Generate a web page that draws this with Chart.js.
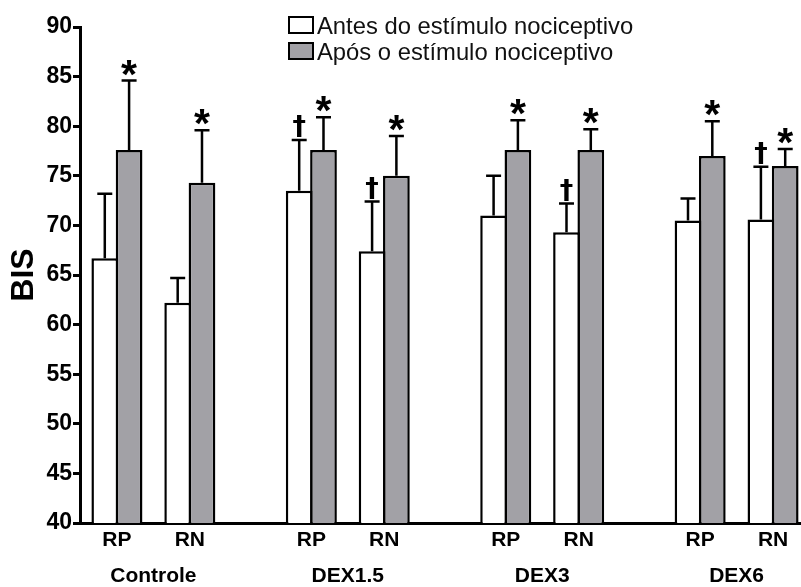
<!DOCTYPE html>
<html>
<head>
<meta charset="utf-8">
<script src="https://cdn.jsdelivr.net/npm/chart.js@4/dist/chart.umd.min.js"></script>
<style>
  html, body { margin: 0; padding: 0; background: #ffffff; }
  #wrap { width: 801px; height: 587px; }
</style>
</head>
<body>
<div id="wrap"><canvas id="bis" width="801" height="587"></canvas></div>
<script>
// BIS before / after the nociceptive stimulus, by group and condition
const groups = ['Controle', 'DEX1.5', 'DEX3', 'DEX6'];
const conditions = ['RP', 'RN'];
const seriesLabels = ['Antes do estímulo nociceptivo', 'Após o estímulo nociceptivo'];

// one value per bar: Controle RP, Controle RN, DEX1.5 RP, DEX1.5 RN, DEX3 RP, DEX3 RN, DEX6 RP, DEX6 RN
const antes      = [66.7, 62.2, 73.5, 67.4, 71.0, 69.3, 70.5, 70.6];
const antesErro  = [6.5, 2.5, 5.1, 5.0, 4.0, 2.9, 2.2, 5.3];
const antesMarca = ['', '', '†', '†', '', '†', '', '†'];

const apos      = [77.6, 74.3, 77.6, 75.0, 77.6, 77.6, 77.0, 76.0];
const aposErro  = [7.0, 5.3, 3.3, 4.0, 3.0, 2.1, 3.5, 1.7];
const aposMarca = ['*', '*', '*', '*', '*', '*', '*', '*'];

const yMin = 40, yMax = 90, yStep = 5;

// horizontal layout: conditions 3 slots apart, groups 8 slots apart
const slotOf = i => Math.floor(i / conditions.length) * 8 + (i % conditions.length) * 3;
const barSlots = antes.map((_, i) => slotOf(i));
const groupSlots = groups.map((_, g) => g * 8 + 1.5);
const barLabels = barSlots.map((_, i) => conditions[i % conditions.length]);

const FONT = '"Liberation Sans", Arial, Helvetica, sans-serif';
const MARK_FONT = { '*': 'bold 41px ' + FONT, '†': 'bold 27px "DejaVu Sans", sans-serif' };
const MARK_GAP = { '*': 5, '†': 2 };
const GREY = '#a2a1a6';

// error bars (upper half only) with significance marks above the caps
const errorBars = {
  id: 'errorBars',
  afterDatasetsDraw(chart) {
    const ctx = chart.ctx;
    const ys = chart.scales.y;
    chart.data.datasets.forEach((ds, di) => {
      const meta = chart.getDatasetMeta(di);
      meta.data.forEach((bar, i) => {
        const v = ds.data[i].y;
        const yTop = ys.getPixelForValue(v + ds.errors[i]);
        const yBar = ys.getPixelForValue(v);
        ctx.save();
        ctx.strokeStyle = '#000';
        ctx.lineWidth = 2.5;
        ctx.beginPath();
        ctx.moveTo(bar.x, yBar);
        ctx.lineTo(bar.x, yTop);
        ctx.moveTo(bar.x - 7.5, yTop);
        ctx.lineTo(bar.x + 7.5, yTop);
        ctx.stroke();
        const mark = ds.marks[i];
        if (mark) {
          ctx.font = MARK_FONT[mark];
          ctx.fillStyle = '#000';
          ctx.textAlign = 'center';
          ctx.textBaseline = 'alphabetic';
          const m = ctx.measureText(mark);
          const inkBottom = yTop - MARK_GAP[mark];
          ctx.fillText(mark, bar.x, inkBottom - m.actualBoundingBoxDescent);
        }
        ctx.restore();
      });
    });
  }
};

const insideLegend = {
  id: 'insideLegend',
  afterDraw(chart) {
    const ctx = chart.ctx;
    ctx.save();
    ctx.font = '23.8px ' + FONT;
    ctx.textAlign = 'left';
    ctx.textBaseline = 'alphabetic';
    chart.data.datasets.forEach((ds, di) => {
      const top = 17 + di * 26;
      ctx.fillStyle = ds.backgroundColor;
      ctx.fillRect(289, top, 24, 16);
      ctx.strokeStyle = '#000';
      ctx.lineWidth = 2;
      ctx.strokeRect(289, top, 24, 16);
      ctx.fillStyle = '#111';
      ctx.fillText(ds.label, 317, top + 16.5);
    });
    ctx.restore();
  }
};

new Chart(document.getElementById('bis'), {
  type: 'bar',
  data: {
    datasets: [
      {
        label: seriesLabels[0],
        data: antes.map((v, i) => ({ x: barSlots[i], y: v })),
        errors: antesErro,
        marks: antesMarca,
        backgroundColor: '#ffffff',
        borderColor: '#000000',
        borderWidth: 2.5,
        borderSkipped: 'start'
      },
      {
        label: seriesLabels[1],
        data: apos.map((v, i) => ({ x: barSlots[i], y: v })),
        errors: aposErro,
        marks: aposMarca,
        backgroundColor: GREY,
        borderColor: '#000000',
        borderWidth: 2.5,
        borderSkipped: 'start'
      }
    ]
  },
  options: {
    responsive: false,
    animation: false,
    categoryPercentage: 2 / 3,
    barPercentage: 1.1,
    layout: { padding: { top: 27, right: 0, bottom: 0, left: 0 } },
    plugins: {
      legend: { display: false },
      tooltip: { enabled: false }
    },
    scales: {
      x: {
        type: 'linear',
        offset: false,
        min: -1.52,
        max: 28.15,
        weight: 0,
        z: 1,
        afterBuildTicks: s => { s.ticks = barSlots.map(v => ({ value: v })); },
        afterFit: s => { s.height = 38; },
        grid: { display: false, drawTicks: false },
        border: { display: true, color: '#000', width: 3 },
        ticks: {
          autoSkip: false,
          maxRotation: 0,
          padding: 5,
          color: '#000',
          font: { family: FONT, size: 21, weight: 'bold' },
          callback: (val, idx) => barLabels[idx]
        }
      },
      x2: {
        type: 'linear',
        position: 'bottom',
        offset: false,
        min: -1.52,
        max: 28.15,
        weight: 1,
        afterBuildTicks: s => { s.ticks = groupSlots.map(v => ({ value: v })); },
        afterFit: s => { s.height = 26; },
        grid: { display: false, drawTicks: false },
        border: { display: false },
        ticks: {
          autoSkip: false,
          maxRotation: 0,
          padding: 3,
          color: '#000',
          font: { family: FONT, size: 21, weight: 'bold' },
          callback: (val, idx) => groups[idx]
        }
      },
      y: {
        min: yMin,
        max: yMax,
        z: 1,
        afterFit: s => { s.width = 80; },
        grid: { display: true, drawOnChartArea: false, drawTicks: true, tickLength: 7, lineWidth: 3, color: '#000' },
        border: { display: true, color: '#000', width: 3 },
        ticks: {
          stepSize: yStep,
          padding: 1,
          color: '#000',
          font: { family: FONT, size: 23, weight: 'bold' }
        },
        title: {
          display: true,
          text: 'BIS',
          color: '#000',
          padding: { top: 5, bottom: 0 },
          font: { family: FONT, size: 32, weight: 'bold' }
        }
      }
    }
  },
  plugins: [errorBars, insideLegend]
});
</script>
</body>
</html>
